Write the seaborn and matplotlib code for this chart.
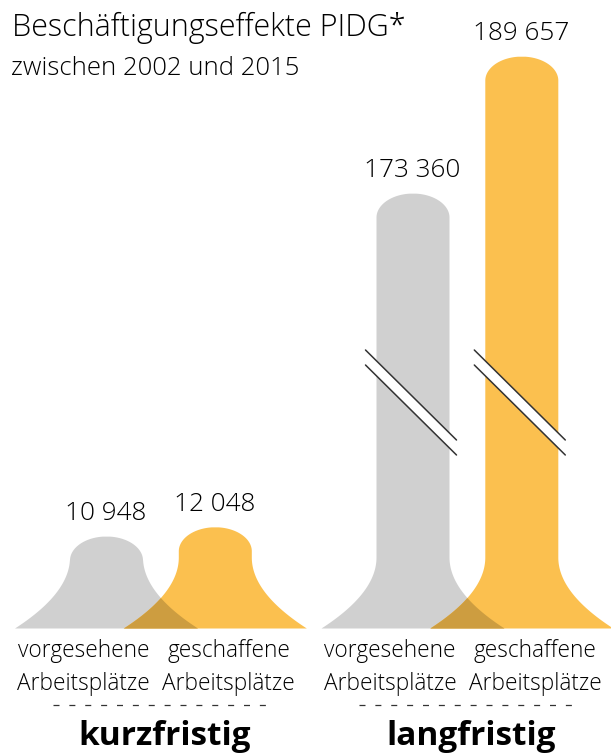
import numpy as np
import matplotlib.pyplot as plt
import seaborn as sns

# Daten: Beschäftigungseffekte PIDG (Arbeitsplätze)
groups = ["kurzfristig", "langfristig"]
kinds = ["vorgesehene\nArbeitsplätze", "geschaffene\nArbeitsplätze"]
kurz_values = [10948, 12048]
lang_values = [173360, 189657]

# Achsenbruch bei den langfristigen Werten (in Tausend)
break_cut = 121.6

grey = "#d0d0d0"
orange = "#fbc04f"
text_col = "#000000"

sns.set_theme(style="white")
plt.rcParams["font.family"] = ["Open Sans", "DejaVu Sans"]

K = 0.119  # tausend Arbeitsplätze pro Pixel
fig = plt.figure(figsize=(6.11, 7.56), dpi=100)
ax = fig.add_axes([0, 0, 1, 1])
ax.set_xlim(0, 6.11)
ax.set_ylim(-128 * K, 628 * K)
ax.axis("off")

neck = 0.365
base = 0.915
flare = 71 * K
dome = 24 * K
yy = np.linspace(0, 628 * K, 4000)


def half_width(top):
    w = np.full_like(yy, neck)
    f = yy < flare
    w[f] = neck + (base - neck) * (1 - yy[f] / flare) ** 2
    d = yy > top - dome
    t = (yy[d] - (top - dome)) / dome
    w[d] = np.minimum(w[d], neck * np.sqrt(np.clip(1 - t ** 2, 0, 1)))
    w[yy > top] = 0
    return w


def blend(c1, c2):
    a = np.array(plt.matplotlib.colors.to_rgb(c1))
    b = np.array(plt.matplotlib.colors.to_rgb(c2))
    return tuple(a * b)


group_centers = [1.6, 4.665]
offsets = [-0.54, 0.548]
colors = [grey, orange]

for g, vals in enumerate([kurz_values, lang_values]):
    heights = []
    for v in vals:
        h = v / 1000
        if h > 50:
            h -= break_cut
        heights.append(h)
    centers = [group_centers[g] + o for o in offsets]
    widths = [half_width(h) for h in heights]
    for c, w, col in zip(centers, widths, colors):
        ax.fill_betweenx(yy, c - w, c + w, where=w > 0, color=col, lw=0)
    # Überlappung dunkler (multiplizieren)
    left = centers[1] - widths[1]
    right = centers[0] + widths[0]
    ax.fill_betweenx(yy, left, right, where=(left < right) & (widths[0] > 0) & (widths[1] > 0),
                     color=blend(grey, orange), lw=0)
    for c, h, v in zip(centers, heights, vals):
        ax.text(c, h + 16 * K, f"{v:,}".replace(",", " "), ha="center", va="baseline",
                fontsize=18.8, fontweight="light", color=text_col)
        if g == 1:
            # Bruchzeichen
            x0, x1 = c - 0.47, c + 0.44
            ytop = 278 * K
            ybot = 188 * K
            gap = 15 * K
            ax.fill([x0, x1, x1, x0], [ytop, ybot, ybot - gap, ytop - gap], color="white", lw=0, zorder=3)
            ax.plot([x0, x1], [ytop, ybot], color="#333333", lw=1.1, zorder=4)
            ax.plot([x0, x1], [ytop - gap, ybot - gap], color="#333333", lw=1.1, zorder=4)

    # Beschriftung unten
    for k, label in enumerate(kinds):
        lx = group_centers[g] - 0.04 + (-0.725 if k == 0 else 0.725)
        l1, l2 = label.split("\n")
        ax.text(lx, (628 - 657) * K, l1, ha="center", va="baseline", fontsize=16.3,
                fontweight="light", color=text_col)
        ax.text(lx, (628 - 690) * K, l2, ha="center", va="baseline", fontsize=16.3,
                fontweight="light", color=text_col)
    ax.plot([group_centers[g] - 1.07, group_centers[g] + 1.07], [(628 - 705) * K] * 2,
            color="#333333", lw=0.9, linestyle=(0, (4.8, 7.9)))
    ax.text(group_centers[g] + 0.05, (628 - 745) * K, groups[g], ha="center", va="baseline",
            fontsize=24, fontweight="bold", color="black")

fig.text(12 / 611, 1 - 36 / 756, "Beschäftigungseffekte PIDG*", fontsize=22, color=text_col,
         fontweight="light", va="baseline", ha="left")
fig.text(11 / 611, 1 - 75 / 756, "zwischen 2002 und 2015", fontsize=18.5, color=text_col,
         fontweight="light", va="baseline", ha="left")

fig.savefig("out.png", dpi=100)
